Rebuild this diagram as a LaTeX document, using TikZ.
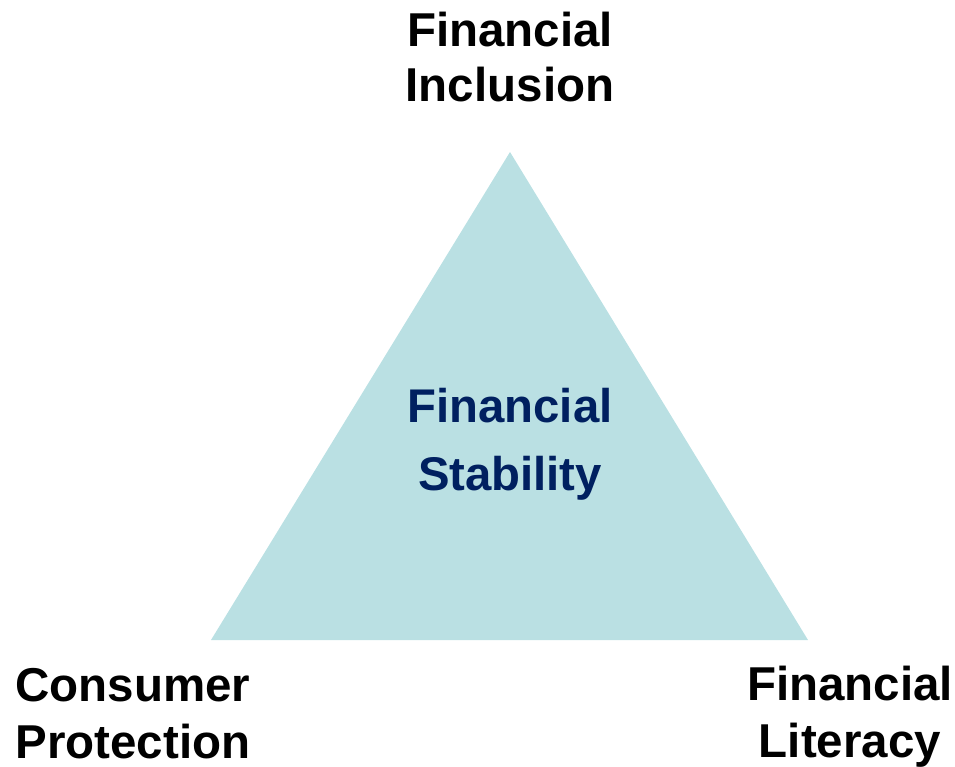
\documentclass[tikz,border=0pt]{standalone}
\usepackage{fontspec}
\setmainfont{Liberation Sans}
\definecolor{triteal}{HTML}{BAE0E3}
\definecolor{navytext}{HTML}{002060}
\begin{document}
\begin{tikzpicture}[x=1pt,y=-1pt,
  label/.style={font=\bfseries\fontsize{47.5}{57}\selectfont, align=center, anchor=base, inner sep=0pt},
  centrelabel/.style={font=\bfseries\fontsize{47.3}{68}\selectfont, align=center, anchor=base, inner sep=0pt, text=navytext}]
  \useasboundingbox (0,0) rectangle (955,767);
  % pyramid
  \coordinate (apex) at (510,152);
  \coordinate (bl) at (211,640);
  \coordinate (br) at (808,640);
  \fill[triteal] (apex) -- (bl) -- (br) -- cycle;
  % corner labels (anchored at the baseline of the last line)
  \node[label, font=\bfseries\fontsize{47.5}{55}\selectfont] (incl) at (510,102) {Financial\\Inclusion};
  \node[label] (cons) at (133,758) {Consumer\\Protection};
  \node[label] (lit) at (850,757) {Financial\\Literacy};
  % centre
  \node[centrelabel] (stab) at (510,490) {Financial\\Stability};
\end{tikzpicture}
\end{document}
